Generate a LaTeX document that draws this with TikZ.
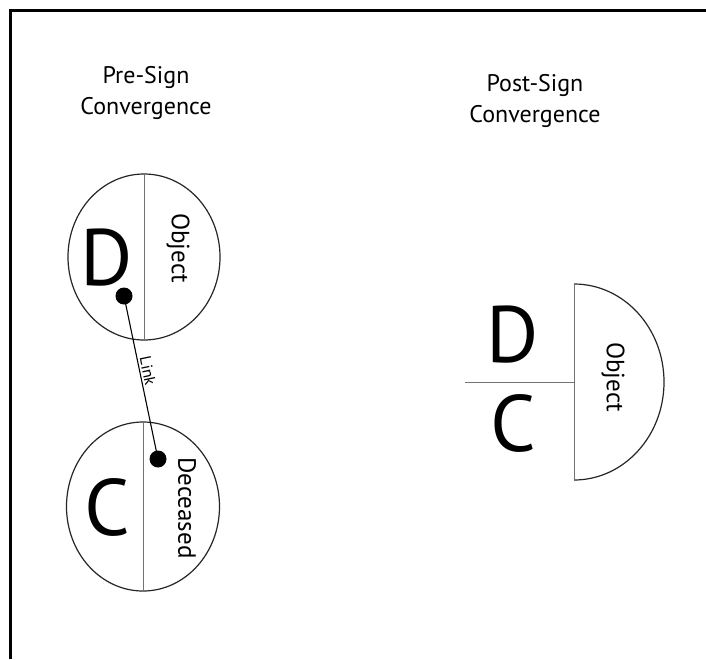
\documentclass[tikz,border=0pt]{standalone}
\usepackage{fontspec}
\setmainfont{PT Sans}
\usetikzlibrary{shapes.geometric}
\begin{document}
\begin{tikzpicture}[x=1pt,y=-1pt,
  outline/.style={draw=black!85,line width=1.2pt},
  divider/.style={draw=black!55,line width=1pt},
  bigletter/.style={font=\fontsize{80}{80}\selectfont,inner sep=0pt},
  sidetext/.style={font=\fontsize{25}{25}\selectfont,rotate=-90,inner sep=0pt},
  title/.style={font=\fontsize{24}{31}\selectfont,align=center,inner sep=0pt},
  dotnode/.style={circle,fill=black,minimum size=17pt,inner sep=0pt}]
\useasboundingbox (0,0) rectangle (706,659);
\fill[white] (0,0) rectangle (706,659);
% frame (top and left only)
\draw[line width=3pt] (10,659) -- (10,10) -- (706,10);
% titles
\node[title] (pretitle) at (146,93) {Pre-Sign\\Convergence};
\node[title] (posttitle) at (535,101) {Post-Sign\\Convergence};
% top ellipse
\node[ellipse,outline,minimum width=152pt,minimum height=166pt,inner sep=0pt] (top) at (144,257) {};
\draw[divider] (top.north) -- (top.south);
\node[bigletter] (D1) at (107,258) {D};
\node[sidetext] (obj1) at (178,248) {Object};
\node[dotnode] (dot1) at (124,296) {};
% bottom ellipse
\node[ellipse,outline,minimum width=153pt,minimum height=169pt,inner sep=0pt] (bot) at (143,506.5) {};
\draw[divider] (bot.north) -- (bot.south);
\node[bigletter] (C1) at (107,507) {C};
\node[sidetext] (dec) at (187,508) {Deceased};
\node[dotnode] (dot2) at (158,459) {};
% link
\draw[line width=1.1pt] (dot1.center) -- node[pos=0.47,sloped,above,font=\fontsize{16}{16}\selectfont,inner sep=2pt] (linklabel) {Link} (dot2.center);
% right half ellipse
\coordinate (rtop) at (574,284);
\coordinate (rbot) at (574,480);
\coordinate (rmid) at (574,382);
\coordinate (rleft) at (465,382);
\draw[outline] (rtop) arc[start angle=90,end angle=-90,x radius=90,y radius=-98];
\draw[divider] (rtop) -- (rbot);
\draw[divider] (rleft) -- (rmid);
\node[bigletter] (D2) at (513,335) {D};
\node[bigletter] (C2) at (513,423) {C};
\node[sidetext] (obj2) at (613,377) {Object};
\end{tikzpicture}
\end{document}
